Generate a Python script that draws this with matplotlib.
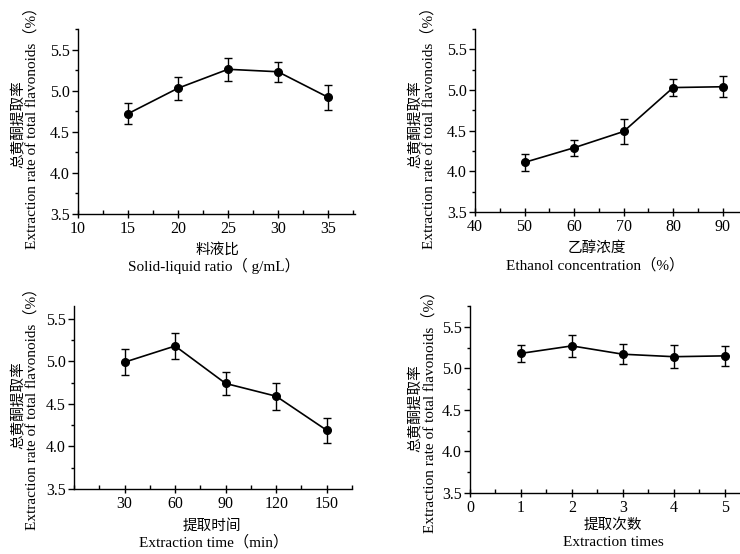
import numpy as np
import matplotlib
matplotlib.use("Agg")
import matplotlib.pyplot as plt
from matplotlib.ticker import MultipleLocator, FixedLocator, FormatStrFormatter

plt.rcParams['font.family'] = ['Liberation Serif', 'Noto Sans CJK SC']
plt.rcParams['axes.unicode_minus'] = False

# data
ratio_x = [15, 20, 25, 30, 35]
ratio_y = [4.72, 5.03, 5.26, 5.23, 4.92]
ratio_err = [0.13, 0.14, 0.14, 0.12, 0.15]

ethanol_x = [50, 60, 70, 80, 90]
ethanol_y = [4.11, 4.29, 4.49, 5.03, 5.04]
ethanol_err = [0.10, 0.10, 0.15, 0.10, 0.13]

time_x = [30, 60, 90, 120, 150]
time_y = [4.99, 5.18, 4.74, 4.59, 4.19]
time_err = [0.15, 0.15, 0.13, 0.16, 0.15]

times_x = [1, 2, 3, 4, 5]
times_y = [5.18, 5.27, 5.17, 5.14, 5.15]
times_err = [0.10, 0.13, 0.12, 0.14, 0.12]

xlabels_cn = ['料液比', '乙醇浓度', '提取时间', '提取次数']
xlabels_en = ['Solid-liquid ratio（ g/mL）', 'Ethanol concentration（%）',
              'Extraction time（min）', 'Extraction times']
ylabel_cn = '总黄酮提取率'
ylabel_en = 'Extraction rate of total flavonoids（%）'

W, H = 740, 554
fig = plt.figure(figsize=(W / 100, H / 100), dpi=100)

def px_axes(l, r, t, b):
    return fig.add_axes([l / W, 1 - b / H, (r - l) / W, (b - t) / H])

def px_text(x, y, s, **kw):
    fig.text(x / W, 1 - y / H, s, ha='center', va='center', **kw)

panels = [
    dict(x=ratio_x, y=ratio_y, e=ratio_err, box=(78, 355, 29, 214),
         xlim=(10, 37.7), ylim=(3.5, 5.75), major=5, minor=2.5, ticks=None,
         cn=(217, 250), en=(214, 266), ycn=18, yen=31, ymid=124),
    dict(x=ethanol_x, y=ethanol_y, e=ethanol_err, box=(475, 745, 29, 212),
         xlim=(40, 94.5), ylim=(3.5, 5.75), major=10, minor=5, ticks=None,
         cn=(597, 248), en=(595, 265), ycn=415, yen=428, ymid=124),
    dict(x=time_x, y=time_y, e=time_err, box=(74, 352, 306, 489),
         xlim=(0, 165), ylim=(3.5, 5.65), major=30, minor=15, ticks=[30, 60, 90, 120, 150],
         cn=(212, 526), en=(214, 542), ycn=18, yen=31, ymid=405),
    dict(x=times_x, y=times_y, e=times_err, box=(470, 745, 306, 493),
         xlim=(0, 5.4), ylim=(3.5, 5.75), major=1, minor=0.5, ticks=None,
         cn=(613, 525), en=(613, 542), ycn=415, yen=429, ymid=408),
]

for i, p in enumerate(panels):
    ax = px_axes(*p['box'])
    ax.errorbar(p['x'], p['y'], yerr=p['e'], fmt='-o', color='black', ms=5.5,
                lw=1.2, elinewidth=1.0, capsize=3, capthick=1.0, clip_on=False)
    ax.set_xlim(*p['xlim'])
    ax.set_ylim(*p['ylim'])
    ax.spines['top'].set_visible(False)
    ax.spines['right'].set_visible(False)
    ax.spines['left'].set_linewidth(1.0)
    ax.spines['bottom'].set_linewidth(1.0)
    if p['ticks'] is not None:
        ax.xaxis.set_major_locator(FixedLocator(p['ticks']))
    else:
        ax.xaxis.set_major_locator(MultipleLocator(p['major']))
    ax.xaxis.set_minor_locator(MultipleLocator(p['minor']))
    ax.yaxis.set_major_locator(MultipleLocator(0.5))
    ax.yaxis.set_minor_locator(MultipleLocator(0.25))
    ax.yaxis.set_major_formatter(FormatStrFormatter('%.1f'))
    ax.tick_params(axis='x', which='major', direction='inout', length=6, width=1.0,
                   labelsize=11.5, pad=2)
    ax.tick_params(axis='x', which='minor', direction='in', length=3, width=1.0)
    ax.tick_params(axis='y', which='major', direction='out', length=4, width=1.0,
                   labelsize=11.5, pad=2)
    ax.tick_params(axis='y', which='minor', direction='out', length=2.5, width=1.0)
    ax.set_facecolor('none')

    px_text(*p['cn'], xlabels_cn[i], fontsize=10.5)
    px_text(*p['en'], xlabels_en[i], fontsize=11)
    px_text(p['ycn'], p['ymid'], ylabel_cn, fontsize=10.5, rotation=90)
    px_text(p['yen'], p['ymid'], ylabel_en, fontsize=11, rotation=90)

fig.savefig('out.png', dpi=100)
